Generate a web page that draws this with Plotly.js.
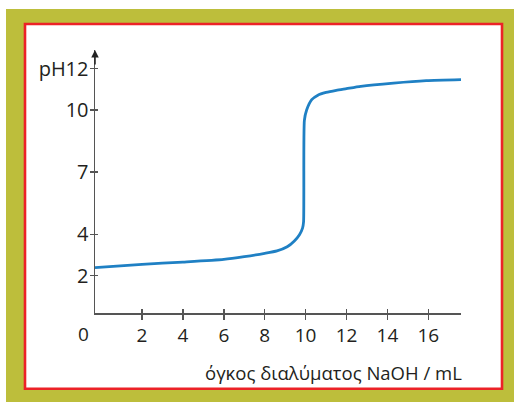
<!DOCTYPE html>
<html>
<head>
<meta charset="utf-8">
<script src="https://cdn.plot.ly/plotly-3.0.1.min.js"></script>
<style>
html,body{margin:0;padding:0;background:#fff;}
#chart{width:514px;height:402px;}
</style>
</head>
<body>
<div id="chart"></div>
<script>
// ---- data ----
const volumeNaOH = [-0.3, 2, 4, 6, 7, 8, 8.6, 9.1, 9.45, 9.7, 9.85, 9.9, 9.94, 10.05, 10.3, 10.6, 11.0, 11.5, 12.0, 12.7, 14.3, 15.9, 17.6];
const pHValues   = [2.39, 2.55, 2.66, 2.79, 2.92, 3.08, 3.2, 3.4, 3.68, 3.98, 4.3, 4.6, 9.5, 10.0, 10.5, 10.72, 10.85, 10.95, 11.03, 11.14, 11.3, 11.42, 11.47];
const xTickVals = [2, 4, 6, 8, 10, 12, 14, 16];
const xTickText = ['2', '4', '6', '8', '10', '12', '14', '16'];
const yTickVals = [2, 4, 7, 10, 12];
const yTickText = ['2', '4', '7', '10', 'pH12'];
const xOriginLabel = '0';
const xAxisTitle = 'όγκος διαλύματος NaOH / mL';

// ---- layout geometry (pixels) ----
const W = 514, H = 402;
const L = 95, R = 461, T = 50, B = 313;
const pw = R - L, ph = B - T;
const px = v => (v - L) / pw;
const py = v => (B - v) / ph;

const font = 'Open Sans, Noto Sans, sans-serif';
const axisColor = '#555555';
const textColor = '#231f20';

const trace = {
  x: volumeNaOH, y: pHValues, type: 'scatter', mode: 'lines',
  line: {color: '#1f80c4', width: 2.8, shape: 'spline', smoothing: 0.6},
  hoverinfo: 'skip', showlegend: false
};

const baseAxis = {
  showgrid: false, zeroline: false, fixedrange: true,
  linecolor: axisColor, linewidth: 1.5, tickcolor: axisColor, tickwidth: 1.5,
  tickfont: {family: font, size: 19, color: textColor}
};

const layout = {
  width: W, height: H,
  margin: {l: L, r: W - R, t: T, b: H - B, pad: 0},
  paper_bgcolor: '#ffffff', plot_bgcolor: 'rgba(0,0,0,0)',
  showlegend: false,
  xaxis: Object.assign({}, baseAxis, {
    range: [-0.3, 17.6], tickmode: 'array', tickvals: xTickVals, ticktext: xTickText,
    showline: true, ticks: 'outside', ticklen: 5, ticklabelstandoff: 0
  }),
  yaxis: Object.assign({}, baseAxis, {
    range: [0.2, 12.9], tickmode: 'array', tickvals: yTickVals, ticktext: yTickText,
    showline: true, ticks: 'outside', ticklen: 4, ticklabelstandoff: -3,
    tickfont: {family: font, size: 20, color: textColor}
  }),
  xaxis2: Object.assign({}, baseAxis, {
    overlaying: 'x', matches: 'x', anchor: 'y2', range: [-0.3, 17.6],
    tickmode: 'array', tickvals: xTickVals, showticklabels: false,
    showline: false, ticks: 'inside', ticklen: 4
  }),
  yaxis2: Object.assign({}, baseAxis, {
    overlaying: 'y', matches: 'y', anchor: 'x2', range: [0.2, 12.9],
    tickmode: 'array', tickvals: yTickVals, showticklabels: false,
    showline: false, ticks: 'inside', ticklen: 3
  }),
  shapes: [
    {type: 'rect', xref: 'paper', yref: 'paper', layer: 'below',
     x0: px(6), x1: px(514), y0: py(402), y1: py(9),
     fillcolor: '#bdbe3b', line: {width: 0}},
    {type: 'rect', xref: 'paper', yref: 'paper', layer: 'below',
     x0: px(25), x1: px(502), y0: py(388.7), y1: py(24),
     fillcolor: '#ffffff', line: {color: '#ec2227', width: 2.6}}
  ],
  annotations: [
    {xref: 'paper', yref: 'paper', x: px(95), y: py(50), ax: 0, ay: 16,
     axref: 'pixel', ayref: 'pixel', text: '', showarrow: true,
     arrowhead: 2, arrowsize: 1, arrowwidth: 1.5, arrowcolor: '#222222'},
    {xref: 'paper', yref: 'paper', x: px(83), y: py(334), xanchor: 'center', yanchor: 'middle',
     text: xOriginLabel, showarrow: false, font: {family: font, size: 19, color: textColor}},
    {xref: 'paper', yref: 'paper', x: px(464), y: py(372), xanchor: 'right', yanchor: 'middle',
     text: xAxisTitle, showarrow: false, font: {family: font, size: 18.5, color: textColor}}
  ]
};

const ghost = {x: [null], y: [null], xaxis: 'x2', yaxis: 'y2', type: 'scatter', mode: 'lines',
  hoverinfo: 'skip', showlegend: false};

Plotly.newPlot('chart', [trace, ghost], layout, {staticPlot: true, displayModeBar: false});
</script>
</body>
</html>
